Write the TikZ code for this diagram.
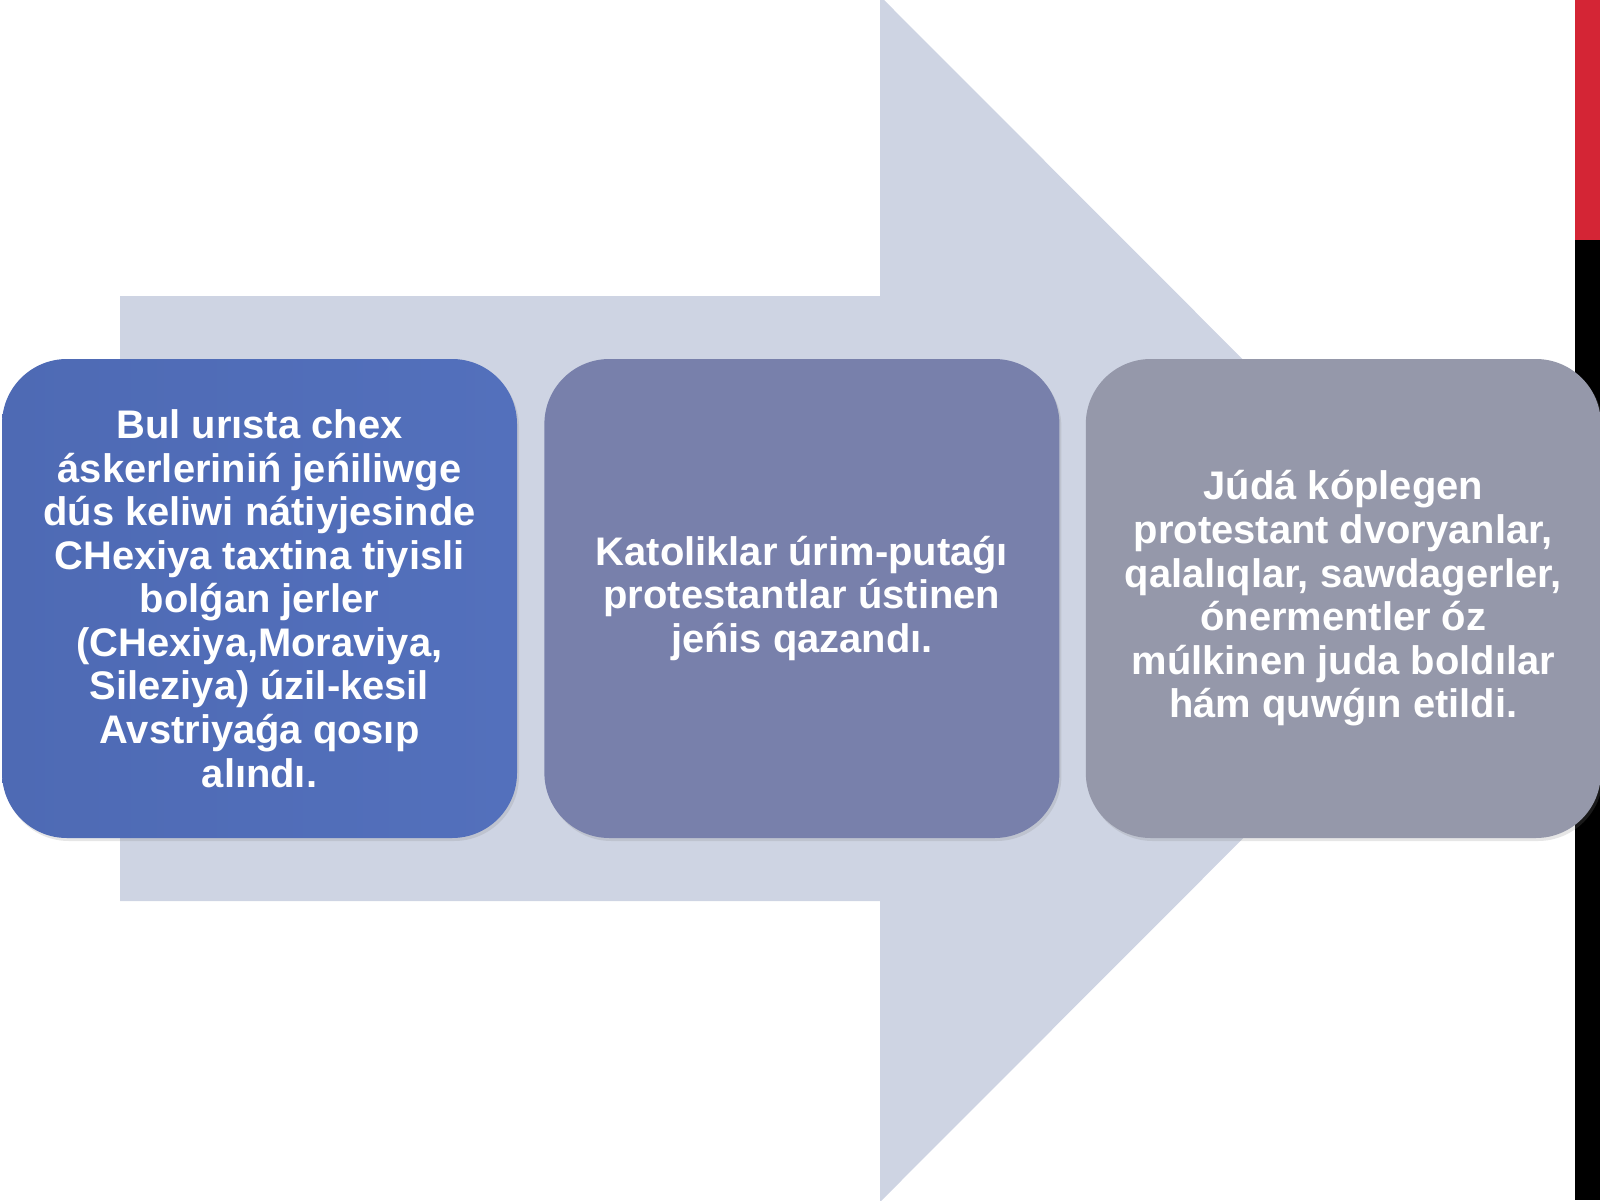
\documentclass[tikz,border=0pt]{standalone}
\usepackage{fontspec}
\setmainfont{Liberation Sans}
\usetikzlibrary{positioning,shadows}
\definecolor{pfeilgrau}{HTML}{CED4E3}
\definecolor{kastenA}{HTML}{4E6AB4}
\definecolor{kastenAhell}{HTML}{5370BC}
\definecolor{kastenB}{HTML}{7880AB}
\definecolor{kastenC}{HTML}{9598AA}
\definecolor{balkenrot}{HTML}{D42535}
\tikzset{
	kasten/.style={rounded corners=0.65cm, minimum width=5.15cm, minimum height=4.79cm,
		inner sep=0pt, align=center, text=white,
		drop shadow={opacity=0.2, shadow xshift=0.02cm, shadow yshift=-0.03cm},
		execute at begin node={\vspace*{0.08cm}},
		font=\fontsize{11.35}{12.4}\selectfont\bfseries},
}
\begin{document}
\begin{tikzpicture}
	\useasboundingbox (0,0) rectangle (16,12);
	% Seitenleiste
	\fill[balkenrot] (15.75,9.6) rectangle (16,12);
	\fill[black] (15.75,0) rectangle (16,9.6);
	% Pfeil
	\fill[pfeilgrau] (1.2,2.99) -- (8.8,2.99) -- (8.8,-0.02) -- (14.82,6.01)
		-- (8.8,12.04) -- (8.8,9.04) -- (1.2,9.04) -- cycle;
	% Kaesten
	\node[kasten, left color=kastenA, right color=kastenAhell] (folgeA) at (2.595,6.015)
		{Bul urısta chex\\ áskerleriniń jeńiliwge\\ dús keliwi nátiyjesinde\\
		CHexiya taxtina tiyisli\\ bolǵan jerler\\ (CHexiya,Moraviya,\\
		Sileziya) úzil-kesil\\ Avstriyaǵa qosıp\\ alındı.};
	\node[kasten, fill=kastenB, right={0.26cm} of folgeA] (folgeB)
		{Katoliklar úrim-putaǵı\\ protestantlar ústinen\\ jeńis qazandı.};
	\node[kasten, fill=kastenC, right={0.25cm} of folgeB] (folgeC)
		{Júdá kóplegen\\ protestant dvoryanlar,\\ qalalıqlar, sawdagerler,\\
		ónermentler óz\\ múlkinen juda boldılar\\ hám quwǵın etildi.};
\end{tikzpicture}
\end{document}
